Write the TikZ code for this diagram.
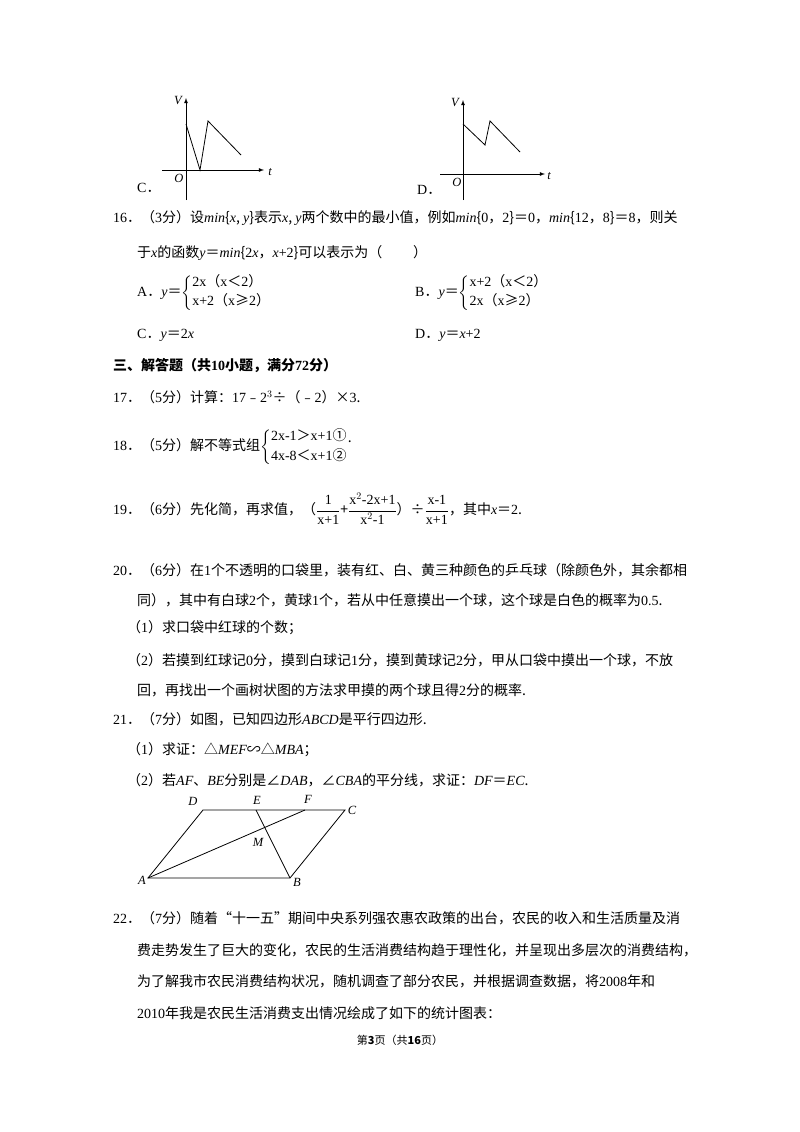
\documentclass[tikz,border=0pt]{standalone}
\usepackage{amsmath}
\usepackage{fontspec}
\setmainfont{Noto Sans CJK SC}
\newfontfamily\lat{Liberation Serif}
\newcommand\vi[1]{{\lat\itshape #1}}
\newcommand\la[1]{{\lat #1}}
\begin{document}
\begin{tikzpicture}[x=1pt,y=-1pt,
  t/.style={anchor=west,inner sep=0pt,font=\fontsize{14}{17}\selectfont},
  lbl/.style={inner sep=0pt,font=\lat\itshape\fontsize{12.5}{14}\selectfont},
  ax/.style={-latex,line width=0.8pt},
  cv/.style={line width=0.8pt}]
\useasboundingbox[fill=white] (0,0) rectangle (800,1132);
% graph C
\draw[ax] (186,200) -- (186,98);
\draw[ax] (162,170) -- (264,170);
\draw[cv] (186,124) -- (200,170) -- (208,121) -- (241,155);
\node[lbl] (cV) at (178,101) {V};
\node[lbl] (ct) at (270,172) {t};
\node[lbl] (cOl) at (179,178) {O};
\node[t] (cC) at (137,188) {\la{C}．};
% graph D
\draw[ax] (463,200) -- (463,100);
\draw[ax] (440,174) -- (545,174);
\draw[cv] (463,124) -- (485,145) -- (490,121) -- (520,152);
\node[lbl] (dV) at (455,103) {V};
\node[lbl] (dt) at (549,176) {t};
\node[lbl] (dOl) at (457,182) {O};
\node[t] (dD) at (417,190) {\la{D}．};
% 16
\node[t] (l16a) at (113,218) {\la{16}．（\la{3}分）设\vi{min}\{\vi{x}, \vi{y}\}表示\vi{x}, \vi{y}两个数中的最小值，例如\vi{min}\{\la{0}，\la{2}\}＝\la{0}，\vi{min}\{\la{12}，\la{8}\}＝\la{8}，则关};
\node[t] (l16b) at (137,253) {于\vi{x}的函数\vi{y}＝\vi{min}\{\la{2}\vi{x}，\vi{x}\la{+2}\}可以表示为（\hspace{2.2em}）};
\node[t] (oA) at (137,293) {\la{A}．\vi{y}＝$\left\{\begin{array}{@{}l@{}}\text{\la{2x}（\la{x}＜\la{2}）}\\[2pt]\text{\la{x+2}（\la{x}≥\la{2}）}\end{array}\right.$};
\node[t] (oB) at (415,293) {\la{B}．\vi{y}＝$\left\{\begin{array}{@{}l@{}}\text{\la{x+2}（\la{x}＜\la{2}）}\\[2pt]\text{\la{2x}（\la{x}≥\la{2}）}\end{array}\right.$};
\node[t] (oC) at (137,335) {\la{C}．\vi{y}＝\la{2}\vi{x}};
\node[t] (oD) at (415,335) {\la{D}．\vi{y}＝\vi{x}\la{+2}};
\node[t,font=\bfseries\fontsize{14}{17}\selectfont] (h3) at (113,366) {三、解答题（共\la{\bfseries 10}小题，满分\la{\bfseries 72}分）};
\node[t] (q17) at (113,397) {\la{17}．（\la{5}分）计算：\la{17}﹣\la{2$^3$}÷（﹣\la{2}）×\la{3}.};
\node[t] (q18) at (113,447) {\la{18}．（\la{5}分）解不等式组$\left\{\begin{array}{@{}l@{}}\text{\la{2x-1}＞\la{x+1}①}\\[3pt]\text{\la{4x-8}＜\la{x+1}②}\end{array}\right.$\raisebox{8pt}{.}};
\node[t] (q19) at (113,509) {\la{19}．（\la{6}分）先化简，再求值，（$\dfrac{\text{\la{1}}}{\text{\la{x+1}}}$+$\dfrac{\text{\la{x$^2$-2x+1}}}{\text{\la{x$^2$-1}}}$）÷$\dfrac{\text{\la{x-1}}}{\text{\la{x+1}}}$，其中\vi{x}＝\la{2}.};
\node[t] (q20a) at (113,570) {\la{20}．（\la{6}分）在\la{1}个不透明的口袋里，装有红、白、黄三种颜色的乒乓球（除颜色外，其余都相};
\node[t] (q20b) at (137,600) {同），其中有白球\la{2}个，黄球\la{1}个，若从中任意摸出一个球，这个球是白色的概率为\la{0.5}.};
\node[t] (q20c) at (127,628) {（\la{1}）求口袋中红球的个数；};
\node[t] (q20d) at (127,660) {（\la{2}）若摸到红球记\la{0}分，摸到白球记\la{1}分，摸到黄球记\la{2}分，甲从口袋中摸出一个球，不放};
\node[t] (q20e) at (137,690) {回，再找出一个画树状图的方法求甲摸的两个球且得\la{2}分的概率.};
\node[t] (q21a) at (113,719) {\la{21}．（\la{7}分）如图，已知四边形\vi{ABCD}是平行四边形.};
\node[t] (q21b) at (127,750) {（\la{1}）求证：△\vi{MEF}∽△\vi{MBA}；};
\node[t] (q21c) at (127,780) {（\la{2}）若\vi{AF}、\vi{BE}分别是∠\vi{DAB}，∠\vi{CBA}的平分线，求证：\vi{DF}＝\vi{EC}.};
% figure
\coordinate (A) at (148,878); \coordinate (B) at (290,878);
\coordinate (C) at (345,810); \coordinate (D) at (203,810);
\coordinate (E) at (256,810); \coordinate (F) at (305,810);
\draw[cv] (A) -- (B) -- (C) -- (D) -- cycle;
\draw[cv] (A) -- (F); \draw[cv] (B) -- (E);
\node[lbl] (lD) at (193,801) {D};
\node[lbl] (lE) at (257,800) {E};
\node[lbl] (lF) at (308,799) {F};
\node[lbl] (lC) at (352,810) {C};
\node[lbl] (lM) at (258,842) {M};
\node[lbl] (lA) at (142,880) {A};
\node[lbl] (lB) at (297,882) {B};
\node[t] (q22a) at (113,918) {\la{22}．（\la{7}分）随着“十一五”期间中央系列强农惠农政策的出台，农民的收入和生活质量及消};
\node[t] (q22b) at (137,950) {费走势发生了巨大的变化，农民的生活消费结构趋于理性化，并呈现出多层次的消费结构，};
\node[t] (q22c) at (137,981) {为了解我市农民消费结构状况，随机调查了部分农民，并根据调查数据，将\la{2008}年和};
\node[t] (q22d) at (137,1013) {\la{2010}年我是农民生活消费支出情况绘成了如下的统计图表：};
\node[inner sep=0pt,font=\fontsize{11}{13}\selectfont] (foot) at (400,1040) {第\textbf{3}页（共\textbf{16}页）};
\end{tikzpicture}
\end{document}
